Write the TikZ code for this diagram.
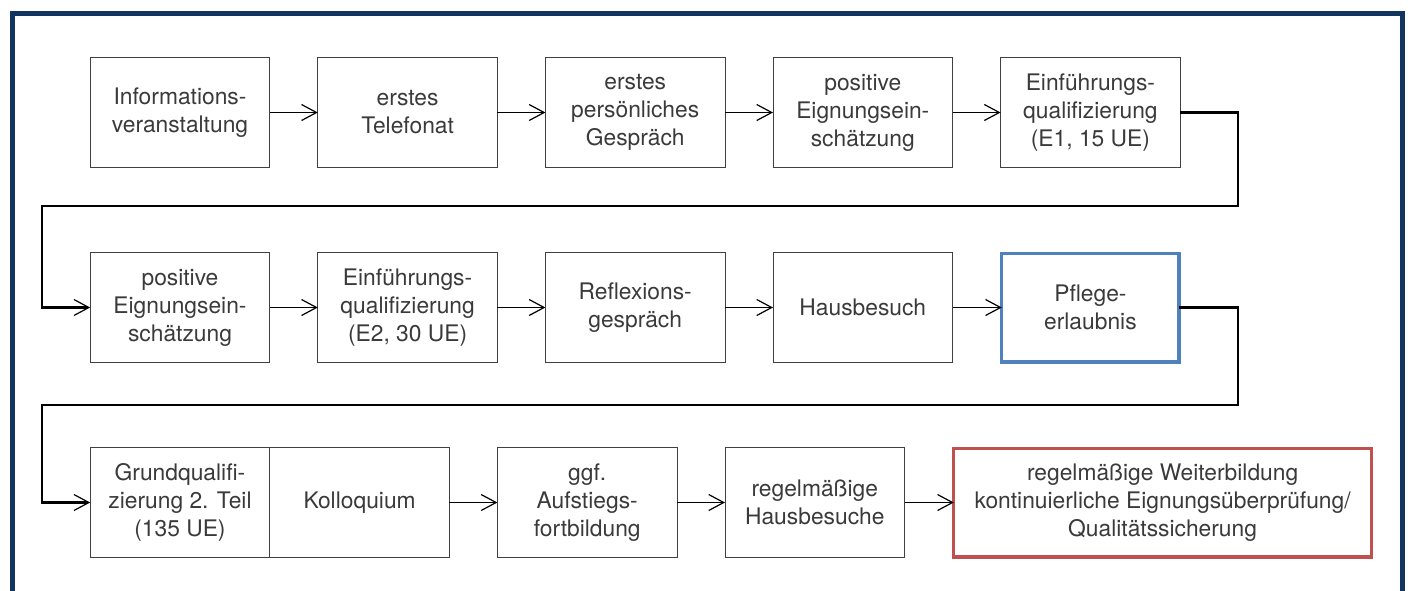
\documentclass[tikz,border=0pt]{standalone}
\usepackage{fontspec}
\setmainfont{TeX Gyre Heros}
\usepackage{xcolor}
\usepackage{tikz}
\usetikzlibrary{positioning,arrows.meta}

\definecolor{framenavy}{HTML}{12355F}
\definecolor{boxblue}{HTML}{4F81BD}
\definecolor{boxred}{HTML}{C0504D}
\definecolor{textgray}{HTML}{3A3A3A}

\tikzset{
  box/.style={draw=black!75, line width=0.5pt, minimum width=89.8pt, minimum height=55pt,
    inner sep=2pt, outer sep=0pt, align=center, text=textgray,
    font=\fontsize{11.4}{14}\selectfont},
  bluebox/.style={box, draw=boxblue, line width=1.6pt, minimum width=88.6pt, minimum height=54.4pt},
  redbox/.style={box, draw=boxred, line width=1.6pt, minimum width=208.8pt, minimum height=54.4pt},
  flow/.style={line width=0.6pt, -{Straight Barb[length=7.5pt,width=8pt]}},
  wrap/.style={line width=1.1pt, -{Straight Barb[length=7.5pt,width=8pt,line width=0.6pt]}},
  frame/.style={draw=framenavy, line width=2.5pt}
}

\begin{document}
\begin{tikzpicture}
      [ x=0.5pt, y=-0.5pt, node distance=42.5pt and 24pt ]
      \useasboundingbox (0,0) rectangle (1408,590);
      \clip (0,0) rectangle (1408,590);
      \draw[frame] (12.5,620) |- (1402,13.5) -- (1402,620);

      % first row
      \node[box]      (info)      at (180,112.5)               {Informations-\\veranstaltung};
      \node[box]      (telefon)   [right=of info]              {erstes\\Telefonat};
      \node[box]      (gespraech) [right=of telefon]           {erstes\\persönliches\\Gespräch};
      \node[box]      (eignung1)  [right=of gespraech]         {positive\\Eignungsein-\\schätzung};
      \node[box]      (einf1)     [right=of eignung1]          {Einführungs-\\qualifizierung\\(E1, 15 UE)};

      % second row
      \node[box]      (eignung2)  [below=of info]              {positive\\Eignungsein-\\schätzung};
      \node[box]      (einf2)     [right=of eignung2]          {Einführungs-\\qualifizierung\\(E2, 30 UE)};
      \node[box]      (reflexion) [right=of einf2]             {Reflexions-\\gespräch};
      \node[box]      (hausbes)   [right=of reflexion]         {Hausbesuch};
      \node[bluebox]  (pflege)    [right=24.6pt of hausbes]    {Pflege-\\erlaubnis};

      % third row
      \node[box]      (grund)     [below=of eignung2]          {Grundqualifi-\\zierung 2. Teil\\(135 UE)};
      \node[box]      (kollo)     [right=0pt of grund]         {Kolloquium};
      \node[box]      (aufstieg)  [right=of kollo]             {ggf.\\Aufstiegs-\\fortbildung};
      \node[box]      (besuche)   [right=of aufstieg]          {regelmäßige\\Hausbesuche};
      \node[redbox]   (weiterb)   [right=24.6pt of besuche]    {regelmäßige Weiterbildung\\kontinuierliche Eignungsüberprüfung/\\Qualitätssicherung};

      \coordinate (turn1r) at (1238,206);
      \coordinate (turn1l) at (42,206);
      \coordinate (turn2r) at (1238,405);
      \coordinate (turn2l) at (42,405);

      \path[flow] (info)      edge (telefon)
                  (telefon)   edge (gespraech)
                  (gespraech) edge (eignung1)
                  (eignung1)  edge (einf1)
                  (eignung2)  edge (einf2)
                  (einf2)     edge (reflexion)
                  (reflexion) edge (hausbes)
                  (hausbes)   edge (pflege)
                  (kollo)     edge (aufstieg)
                  (aufstieg)  edge (besuche)
                  (besuche)   edge (weiterb);

      \draw[wrap] (einf1.east) -| (turn1r) -- (turn1l) |- (eignung2.west);
      \draw[wrap] (pflege.east) -| (turn2r) -- (turn2l) |- (grund.west);
    \end{tikzpicture}
\end{document}
